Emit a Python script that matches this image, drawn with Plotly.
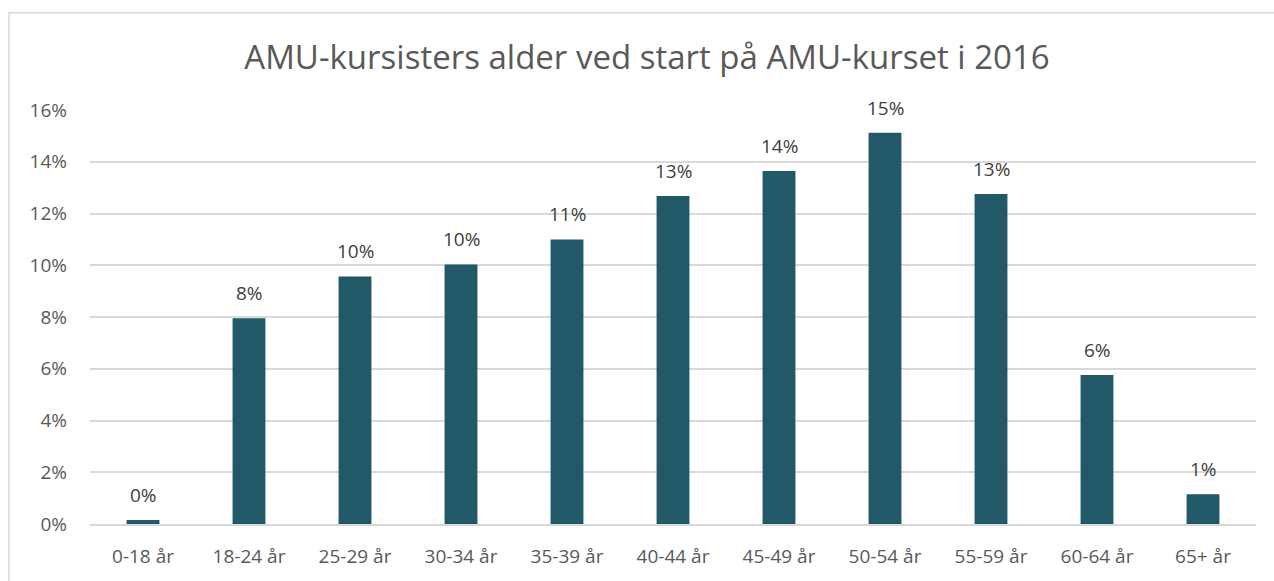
import plotly.graph_objects as go

categories = ["0-18 år", "18-24 år", "25-29 år", "30-34 år", "35-39 år", "40-44 år",
              "45-49 år", "50-54 år", "55-59 år", "60-64 år", "65+ år"]
values = [0.0015, 0.0795, 0.0957, 0.1003, 0.1100, 0.1268, 0.1364, 0.1512, 0.1275, 0.0576, 0.0115]
y_ticks = [0, 0.02, 0.04, 0.06, 0.08, 0.10, 0.12, 0.14, 0.16]
title_text = "AMU-kursisters alder ved start på AMU-kurset i 2016"

FONT = "Open Sans"
GRAY = "#595959"

fig = go.Figure(go.Bar(
    x=categories, y=values,
    marker=dict(color="#215968", line=dict(width=0)),
    width=0.31,
))

for c, v in zip(categories, values):
    fig.add_annotation(x=c, y=v, text=f"{v*100:.0f}%", showarrow=False,
                       yanchor="middle", yshift=25,
                       font=dict(family=FONT, size=19, color="#404040"))

W, H = 1274, 581
L, R, T, B = 90, 18, 110, 54
pw, ph = W - L - R, H - T - B

fig.update_layout(
    width=W, height=H,
    margin=dict(l=L, r=R, t=T, b=B),
    paper_bgcolor="white", plot_bgcolor="white",
    showlegend=False,
    title=dict(text=title_text, x=647 / W, xanchor="center", y=1 - 57 / H, yanchor="middle",
               xref="container",
               font=dict(family=FONT, size=33, color=GRAY)),
    xaxis=dict(showgrid=False, showline=True, linecolor="#d9d9d9", linewidth=1.5,
               tickfont=dict(family=FONT, size=19, color=GRAY), ticks="",
               ticklabelstandoff=14),
    yaxis=dict(range=[0, 0.16], tickvals=y_ticks, tickformat=".0%",
               showgrid=True, gridcolor="#d9d9d9", gridwidth=1.5, zeroline=False,
               showline=False, ticks="",
               tickfont=dict(family=FONT, size=19, color=GRAY), ticklabelstandoff=22),
    shapes=[dict(type="rect", xref="paper", yref="paper",
                 x0=(9 - L) / pw, x1=(1300 - L) / pw,
                 y0=(H - B - 600) / ph, y1=(H - B - 12) / ph,
                 line=dict(color="#d9d9d9", width=1.5), fillcolor="rgba(0,0,0,0)", layer="below")],
)

fig.write_html("out.html", config={"displayModeBar": False},
               post_script="document.body.style.margin='0';document.body.style.overflow='hidden';")
